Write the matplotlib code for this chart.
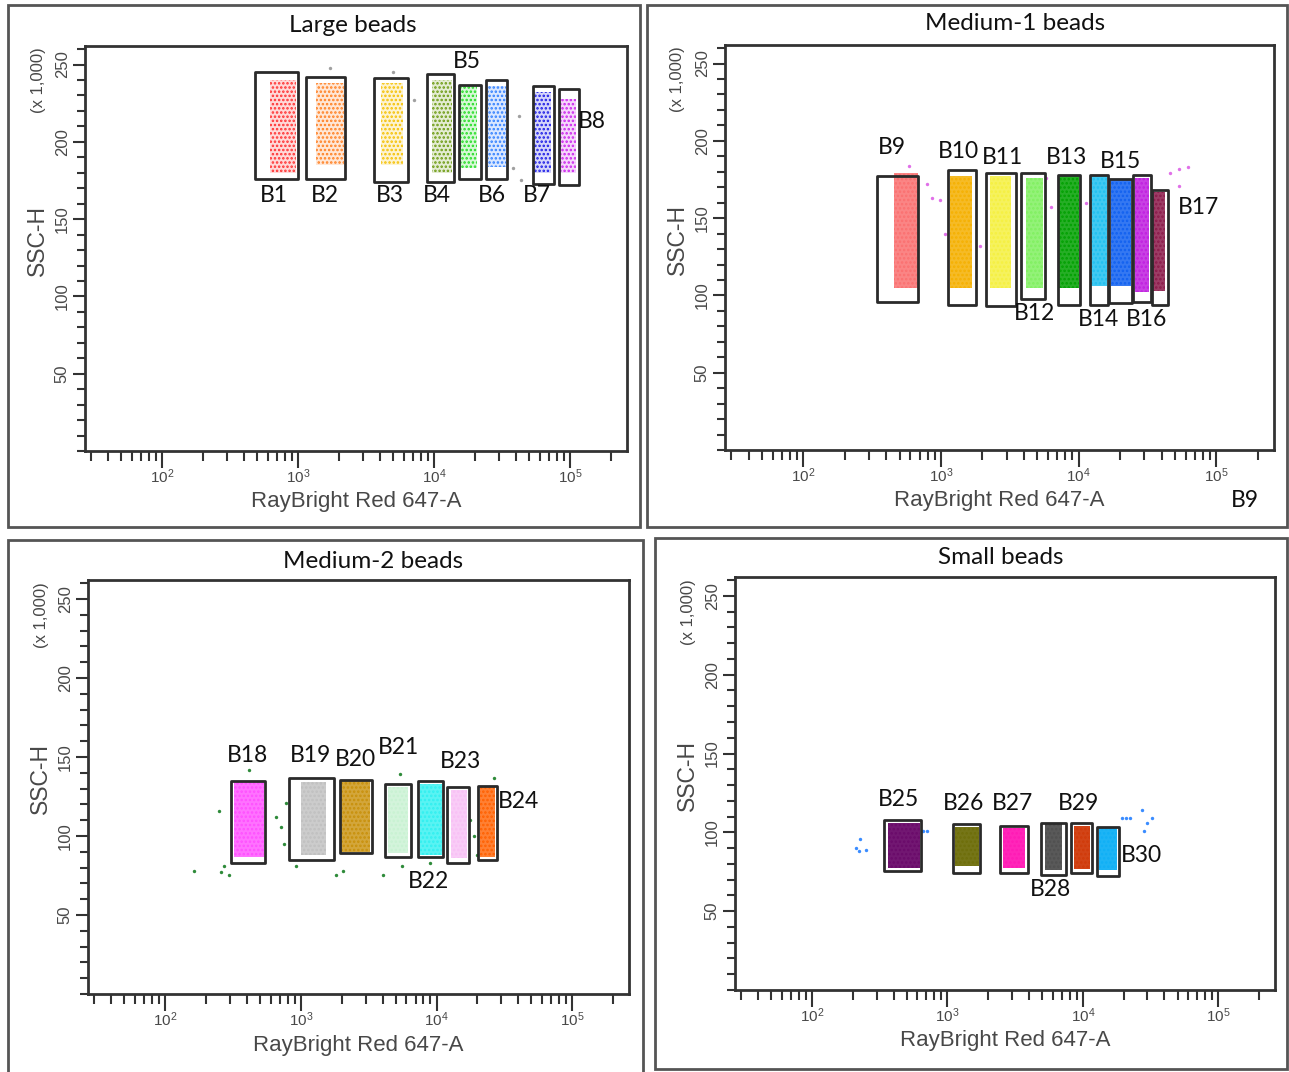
import matplotlib
matplotlib.use("Agg")
import matplotlib.pyplot as plt
from matplotlib.patches import Rectangle
from matplotlib.ticker import FixedLocator, MultipleLocator, LogLocator, NullFormatter
from matplotlib.colors import to_rgba

W, H = 1289, 1072

# ---------------- data ----------------
# Panel 1: Large beads
p1_labels = ["B1", "B2", "B3", "B4", "B5", "B6", "B7", "B8"]
p1_gate_x0 = [480, 1150, 3620, 8900, 15200, 24200, 53700, 82800]
p1_gate_x1 = [990, 2210, 6470, 13960, 22200, 34600, 75900, 116500]
p1_gate_y0 = [176, 176, 174, 174, 176, 176, 173, 172]
p1_gate_y1 = [245, 242, 241, 244, 237, 240, 236, 234]
p1_cloud_x0 = [620, 1340, 4080, 9590, 15560, 25000, 54600, 83700]
p1_cloud_x1 = [955, 2180, 5920, 13520, 20700, 33600, 72600, 111300]
p1_cloud_y0 = [180, 185, 185, 180, 183, 184, 180, 180]
p1_cloud_y1 = [240, 238, 238, 240, 236, 236, 232, 228]
p1_colors = ["#FF3030", "#FF7F20", "#F5C000", "#6B9A10", "#22DD22", "#2F7FFF", "#1A1AE6", "#CC22EE"]
p1_out_x = [1718, 4990, 7140, 42300, 43500, 37700]
p1_out_y = [248, 245, 227, 217, 175, 183]

# Panel 2: Medium-1 beads
p2_labels = ["B9", "B10", "B11", "B12", "B13", "B14", "B15", "B16", "B17"]
p2_gate_x0 = [342, 1122, 2123, 3837, 7096, 12050, 16640, 24890, 34360]
p2_gate_x1 = [682, 1799, 3491, 5650, 10210, 16440, 24220, 33580, 44260]
p2_gate_y0 = [96, 94, 93, 97.5, 94, 94, 95, 96, 94]
p2_gate_y1 = [177, 181, 179, 179, 178, 178, 175, 178, 168]
p2_cloud_x0 = [453, 1167, 2264, 4169, 7244, 12280, 17100, 25590, 34680]
p2_cloud_x1 = [686, 1683, 3250, 5495, 10100, 16180, 23840, 32280, 42640]
p2_cloud_y0 = [105, 105, 105, 105, 105, 106, 106, 102, 103]
p2_cloud_y1 = [179, 177, 177, 176, 177, 177, 175, 176, 167]
p2_colors = ["#FA7070", "#F5B000", "#F5F040", "#80F060", "#00A000", "#20C0F0", "#1060F0", "#C020E0", "#8B1A4A"]
p2_out_x = [584, 793, 861, 988, 1074, 1918, 5808, 6310, 11300, 53100, 62700, 53100, 46300]
p2_out_y = [184, 172, 163, 162, 140, 132, 176, 157, 160, 182, 183, 171, 179]

# Panel 3: Medium-2 beads
p3_labels = ["B18", "B19", "B20", "B21", "B22", "B23", "B24"]
p3_gate_x0 = [307, 812, 1928, 4178, 7260, 12020, 20180]
p3_gate_x1 = [546, 1750, 3365, 6440, 11230, 17490, 27920]
p3_gate_y0 = [83, 84.5, 89.5, 87, 87, 83, 84.5]
p3_gate_y1 = [134.5, 136.5, 135.5, 133, 134.5, 131, 131.5]
p3_cloud_x0 = [322, 1003, 1986, 4395, 7550, 12740, 20740]
p3_cloud_x1 = [537, 1538, 3260, 6180, 10940, 16760, 27100]
p3_cloud_y0 = [87, 88, 90, 89, 88, 86, 87]
p3_cloud_y1 = [134, 134, 135, 131, 133, 129, 131]
p3_colors = ["#FF4FFF", "#C0C0C0", "#C8900A", "#C8F2D2", "#30F0F0", "#F8C0F5", "#FF6000"]
p3_out_x = [249, 271, 295, 257, 655, 713, 777, 755, 920, 1824, 2041, 4040, 5520, 8950,
            17700, 18740, 19850, 416, 5370, 26370, 163]
p3_out_y = [116, 81, 75, 77, 112, 106, 121, 95, 81, 75, 78, 75, 81, 83,
            110, 100, 88, 142, 139, 137, 78]

# Panel 4: Small beads
p4_labels = ["B25", "B26", "B27", "B28", "B29", "B30"]
p4_gate_x0 = [342, 1091, 2455, 4909, 8240, 12760]
p4_gate_x1 = [635, 1746, 3918, 7510, 11730, 18460]
p4_gate_y0 = [75.6, 74, 74.5, 73, 74, 72.5]
p4_gate_y1 = [108, 105, 104, 105.7, 105.7, 103.5]
p4_cloud_x0 = [366, 1130, 2560, 5290, 8570, 13120]
p4_cloud_x1 = [628, 1700, 3720, 7030, 11380, 17950]
p4_cloud_y0 = [77.6, 78.4, 77.3, 76.3, 77, 76]
p4_cloud_y1 = [105.7, 103.7, 102.8, 105.7, 104, 103]
p4_colors = ["#6A0A6A", "#6E6E0A", "#FF1AB5", "#505050", "#D03A0A", "#10B0F5"]
p4_out_x = [213, 226, 249, 222, 19300, 20650, 22130, 27480, 32570, 29900, 28330, 665, 703]
p4_out_y = [90, 96, 89, 88, 109, 109, 109, 114, 109, 106, 101, 101, 101]

titles = ["Large beads", "Medium-1 beads", "Medium-2 beads", "Small beads"]
x_label = "RayBright Red 647-A"
y_label = "SSC-H"
y_unit = "(x 1,000)"
xlim = (27, 262144)
ylim = (0, 262)
y_major = [50, 100, 150, 200, 250]

# ---------------- layout (pixel geometry) ----------------
def fx(x):
    return x / W

def fy(y):
    return 1 - y / H

axes_px = [(85, 46, 627, 451), (725, 45, 1274, 450), (88, 580, 629, 994), (735, 577, 1275, 990)]
frames_px = [(8, 5, 640, 527), (647, 5, 1287, 527), (8, 540, 643, 1080), (655, 538, 1287, 1069)]
title_px = [(353, 25), (1015, 24), (373, 561), (1001, 557)]
label_px = [
    [(274, 195), (325, 195), (390, 195), (437, 195), (467, 62), (492, 195), (537, 195), (592, 122)],
    [(892, 148), (958, 152), (1002, 158), (1034, 313), (1067, 158), (1099, 319), (1121, 162), (1147, 319), (1198, 208)],
    [(247, 755), (311, 756), (355, 760), (399, 748), (429, 882), (461, 761), (519, 802)],
    [(898, 800), (964, 804), (1013, 803), (1051, 889), (1078, 804), (1141, 855)],
]

panels = [
    (p1_labels, p1_gate_x0, p1_gate_x1, p1_gate_y0, p1_gate_y1, p1_cloud_x0, p1_cloud_x1,
     p1_cloud_y0, p1_cloud_y1, p1_colors, p1_out_x, p1_out_y, "#A0A0A0", 0.18, "...."),
    (p2_labels, p2_gate_x0, p2_gate_x1, p2_gate_y0, p2_gate_y1, p2_cloud_x0, p2_cloud_x1,
     p2_cloud_y0, p2_cloud_y1, p2_colors, p2_out_x, p2_out_y, "#E070E8", 0.85, "...."),
    (p3_labels, p3_gate_x0, p3_gate_x1, p3_gate_y0, p3_gate_y1, p3_cloud_x0, p3_cloud_x1,
     p3_cloud_y0, p3_cloud_y1, p3_colors, p3_out_x, p3_out_y, "#2E8B3A", 0.8, "...."),
    (p4_labels, p4_gate_x0, p4_gate_x1, p4_gate_y0, p4_gate_y1, p4_cloud_x0, p4_cloud_x1,
     p4_cloud_y0, p4_cloud_y1, p4_colors, p4_out_x, p4_out_y, "#3A8CFF", 0.95, "...."),
]

plt.rcParams["font.family"] = ["Liberation Sans", "DejaVu Sans"]
plt.rcParams["mathtext.fontset"] = "custom"
plt.rcParams["mathtext.rm"] = "Liberation Sans"
plt.rcParams["mathtext.it"] = "Liberation Sans"
plt.rcParams["hatch.linewidth"] = 1.2
ann_font = ["Lato", "DejaVu Sans"]

fig = plt.figure(figsize=(W / 100, H / 100), dpi=100)
fig.patch.set_facecolor("white")

for (l, t, r, b) in frames_px:
    fig.add_artist(Rectangle((fx(l), fy(b)), fx(r - l), (b - t) / H, transform=fig.transFigure,
                             fill=False, edgecolor="#555555", linewidth=2.0))

axis_grey = "#333333"
text_grey = "#484848"

for i, pdata in enumerate(panels):
    (labs, gx0, gx1, gy0, gy1, cx0, cx1, cy0, cy1, cols, ox, oy, ocol, falpha, hatch) = pdata
    l, t, r, b = axes_px[i]
    ax = fig.add_axes([fx(l), fy(b), fx(r - l), (b - t) / H])
    ax.set_xscale("log")
    ax.set_xlim(*xlim)
    ax.set_ylim(*ylim)
    for s in ax.spines.values():
        s.set_linewidth(2.0)
        s.set_color(axis_grey)

    # outlier events
    ax.scatter(ox, oy, s=6, color=ocol, linewidths=0, zorder=2)

    # bead clouds and gates
    for j in range(len(labs)):
        c = cols[j]
        ax.add_patch(Rectangle((cx0[j], cy0[j]), cx1[j] - cx0[j], cy1[j] - cy0[j],
                               facecolor=to_rgba(c, falpha), edgecolor=c, hatch=hatch,
                               linewidth=0, zorder=3))
        ax.add_patch(Rectangle((gx0[j], gy0[j]), gx1[j] - gx0[j], gy1[j] - gy0[j],
                               facecolor="none", edgecolor="#2a2a2a", linewidth=2.0, zorder=4,
                               joinstyle="round"))

    # ticks
    ax.xaxis.set_major_locator(LogLocator(base=10, numticks=10))
    ax.xaxis.set_minor_locator(LogLocator(base=10, subs=[2, 3, 4, 5, 6, 7, 8, 9], numticks=20))
    ax.xaxis.set_minor_formatter(NullFormatter())
    ax.yaxis.set_major_locator(FixedLocator(y_major))
    ax.yaxis.set_minor_locator(MultipleLocator(10))
    ax.tick_params(axis="x", which="major", direction="out", length=12, width=1.5,
                   color=axis_grey, labelsize=11, labelcolor=text_grey, pad=0)
    ax.tick_params(axis="x", which="minor", direction="out", length=7, width=1.5, color=axis_grey)
    ax.tick_params(axis="y", which="major", direction="out", length=9, width=1.5,
                   color=axis_grey, labelsize=12, labelcolor=text_grey, labelrotation=90, pad=2)
    ax.tick_params(axis="y", which="minor", direction="out", length=6, width=1.5, color=axis_grey)
    for lab in ax.get_yticklabels():
        lab.set_verticalalignment("center")

    ax.set_xlabel(x_label, fontsize=16, color=text_grey)
    ax.xaxis.set_label_coords(0.5, -0.098)
    ax.set_ylabel(y_label, fontsize=16.5, color=text_grey)
    ax.yaxis.set_label_coords(-0.066, 0.52)
    ax.text(-0.086, 0.915, y_unit, transform=ax.transAxes, rotation=90, ha="center", va="center",
            fontsize=12, color=text_grey)

    # title
    tx, ty = title_px[i]
    fig.text(fx(tx), fy(ty), titles[i], ha="center", va="center", fontsize=17.5,
             family=ann_font, color="#111111")
    # bead labels
    for j, (lx, ly) in enumerate(label_px[i]):
        fig.text(fx(lx), fy(ly), labs[j], ha="center", va="center", fontsize=16.5,
                 family=ann_font, color="#111111")

# stray label in the source image
fig.text(fx(1245), fy(500), "B9", ha="center", va="center", fontsize=16.5, family=ann_font, color="#111111")

fig.savefig("out.png", dpi=100)
